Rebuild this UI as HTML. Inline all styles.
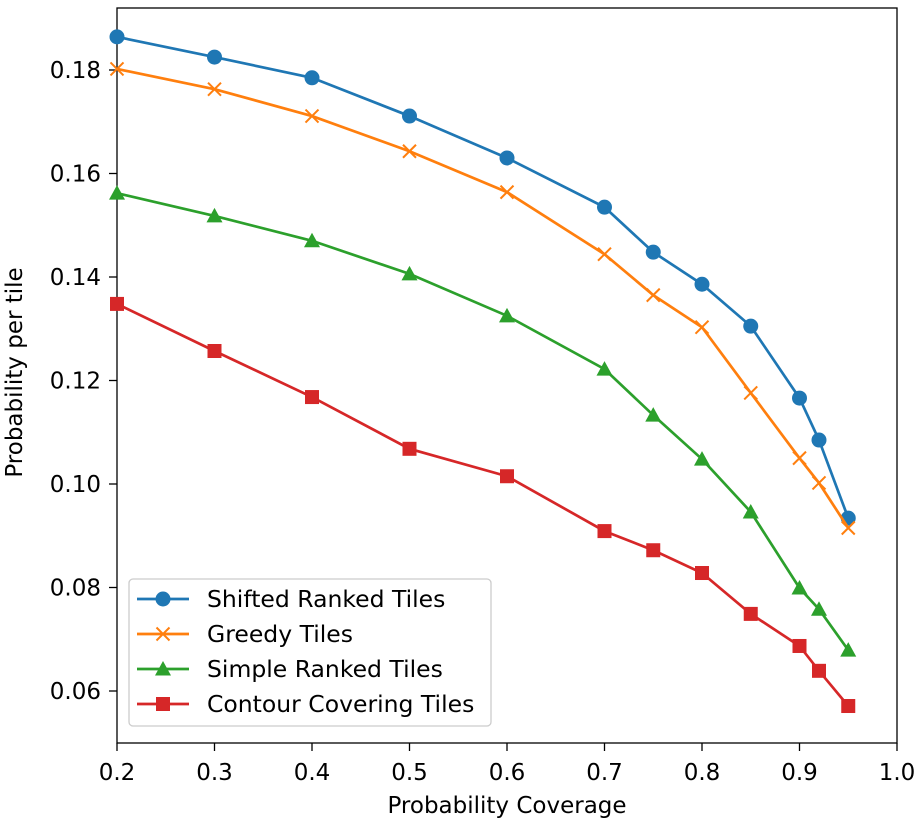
<!DOCTYPE html>
<html><head><meta charset="utf-8"><style>
body{margin:0;background:#fff}
text{font-family:"DejaVu Sans","Liberation Sans",sans-serif;fill:#000}
</style></head><body>
<svg id="chart" width="919" height="824" xmlns="http://www.w3.org/2000/svg"></svg>
<script>
const xValues=[0.2,0.3,0.4,0.5,0.6,0.7,0.75,0.8,0.85,0.9,0.92,0.95];
const shiftedRanked=[0.1864,0.1825,0.1785,0.1711,0.1630,0.1535,0.1448,0.1386,0.1305,0.1166,0.1085,0.0934];
const greedy=[0.1802,0.1763,0.1711,0.1643,0.1564,0.1444,0.1365,0.1303,0.1176,0.1050,0.1002,0.0915];
const simpleRanked=[0.1562,0.1518,0.1470,0.1406,0.1325,0.1222,0.1133,0.1048,0.0946,0.0799,0.0758,0.0679];
const contour=[0.1348,0.1257,0.1168,0.1068,0.1015,0.0909,0.0872,0.0828,0.0749,0.0687,0.0639,0.0571];
const xTicks=[0.2,0.3,0.4,0.5,0.6,0.7,0.8,0.9,1.0];
const yTicks=[0.06,0.08,0.10,0.12,0.14,0.16,0.18];
const seriesNames=["Shifted Ranked Tiles","Greedy Tiles","Simple Ranked Tiles","Contour Covering Tiles"];

const svg=document.getElementById('chart');
const NS='http://www.w3.org/2000/svg';
const L=117,R=897,T=8,B=743;
const sx=v=>L+(v-0.2)/0.8*(R-L);
const sy=v=>70+(0.18-v)/0.02*103.5;
function mk(tag,attrs,parent){const e=document.createElementNS(NS,tag);for(const k in attrs)e.setAttribute(k,attrs[k]);(parent||svg).appendChild(e);return e;}

const frame=mk('rect',{x:L,y:T,width:R-L,height:B-T,fill:'none',stroke:'#000','stroke-width':1.3});



xTicks.forEach(t=>{
  const x=sx(t);
  const tk=mk('line',{x1:x,x2:x,y1:B,y2:B+8,stroke:'#000','stroke-width':1.3});
  
  
  const lb=mk('text',{x:x,y:B+37,'text-anchor':'middle','font-size':23});
  
  
  lb.textContent=t.toFixed(1);
});
yTicks.forEach(t=>{
  const y=sy(t);
  const tk=mk('line',{x1:L-8,x2:L,y1:y,y2:y,stroke:'#000','stroke-width':1.3});
  
  
  const lb=mk('text',{x:L-16,y:y+8,'text-anchor':'end','font-size':23});
  
  
  lb.textContent=t.toFixed(2);
});
const xt=mk('text',{x:(L+R)/2,y:813,'text-anchor':'middle','font-size':23});


xt.textContent='Probability Coverage';
const yt=mk('text',{x:0,y:0,'text-anchor':'middle','font-size':23,transform:'translate(22,'+((T+B)/2-3)+') rotate(-90)'});


yt.textContent='Probability per tile';

const colors=['#1f77b4','#ff7f0e','#2ca02c','#d62728'];
const kinds=['circle','x','triangle','square'];
function marker(g,kind,x,y,c){
  let m;
  if(kind==='circle')m=mk('circle',{cx:x,cy:y,r:7.5,fill:c},g);
  else if(kind==='x')m=mk('path',{d:`M${x-6.5},${y-6.5}L${x+6.5},${y+6.5}M${x-6.5},${y+6.5}L${x+6.5},${y-6.5}`,stroke:c,'stroke-width':2,fill:'none'},g);
  else if(kind==='triangle')m=mk('path',{d:`M${x},${y-8}L${x+8},${y+6.5}L${x-8},${y+6.5}Z`,fill:c},g);
  else m=mk('rect',{x:x-7,y:y-7,width:14,height:14,fill:c},g);
  return m;
}
const allSeries=[shiftedRanked,greedy,simpleRanked,contour];
allSeries.forEach((vals,i)=>{
  const g=mk('g',{});
  
  
  const pts=vals.map((v,j)=>sx(xValues[j])+','+sy(v)).join(' ');
  const pl=mk('polyline',{points:pts,fill:'none',stroke:colors[i],'stroke-width':2.7},g);
  
  
  vals.forEach((v,j)=>{
    const m=marker(g,kinds[i],sx(xValues[j]),sy(v),colors[i]);
    
    
  });
});

const lg=mk('g',{});


const lbox=mk('rect',{x:129,y:579,width:362,height:147,rx:4,fill:'#fff','fill-opacity':0.8,stroke:'#ccc','stroke-width':1.3},lg);


seriesNames.forEach((n,i)=>{
  const y=599+i*35;
  const e=mk('g',{},lg);
  
  
  mk('line',{x1:137,x2:189,y1:y,y2:y,stroke:colors[i],'stroke-width':2.7},e);
  marker(e,kinds[i],163,y,colors[i]);
  const t=mk('text',{x:207,y:y+8,'font-size':23.5},e);
  t.textContent=n;
});
</script>
</body></html>
